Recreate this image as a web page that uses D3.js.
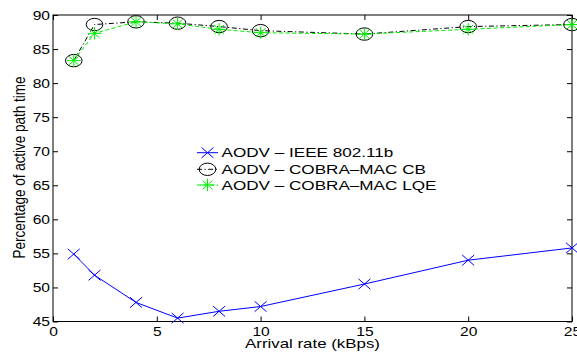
<!DOCTYPE html>
<html><head><meta charset="utf-8">
<script src="https://cdn.jsdelivr.net/npm/d3@7"></script>
<style>body{margin:0;background:#fff}svg{display:block}</style>
</head><body>
<script>
const arrivalRates = [1, 2, 4, 6, 8, 10, 15, 20, 25];
const ieee80211b = [54.9, 51.8, 47.8, 45.5, 46.5, 47.2, 50.5, 54.0, 55.8];
const cobraCB   = [83.3, 88.6, 89.0, 88.8, 88.3, 87.7, 87.2, 88.3, 88.6];
const cobraLQE  = [83.3, 87.3, 89.0, 88.7, 87.9, 87.4, 87.2, 87.9, 88.6];
const xTicks = [0, 5, 10, 15, 20, 25];
const yTicks = [45, 50, 55, 60, 65, 70, 75, 80, 85, 90];
const seriesNames = ["AODV \u2013 IEEE 802.11b", "AODV \u2013 COBRA\u2013MAC CB", "AODV \u2013 COBRA\u2013MAC LQE"];
const xLabel = "Arrival rate (kBps)";
const yLabel = "Percentage of active path time";

const W = 577, H = 355;
const m = {l: 53, r: 5, t: 15, b: 33.5};
const SX = 1.25;
const FONT = "'Liberation Sans', Arial, Helvetica, sans-serif";

const svg = d3.select("body").append("svg").attr("width", W).attr("height", H);
const x = d3.scaleLinear().domain([0, 25]).range([m.l, W - m.r]);
const y = d3.scaleLinear().domain([45, 90]).range([H - m.b, m.t]);

// box
svg.append("rect").attr("x", x(0)).attr("y", y(90)).attr("width", x(25) - x(0)).attr("height", y(45) - y(90))
  .attr("fill", "none").attr("stroke", "#000").attr("stroke-width", 1);

function styleAxis(g, labels) {
  g.select(".domain").remove();
  g.selectAll("line").attr("stroke", "#000").attr("stroke-width", 1);
  g.selectAll("text").attr("font-family", FONT).attr("font-size", 12.5).attr("fill", "#000");
  if (!labels) g.selectAll("text").remove();
}
const gB = svg.append("g").attr("transform", `translate(0,${y(45)})`)
  .call(d3.axisBottom(x).tickValues(xTicks).tickSizeInner(-5).tickSizeOuter(0).tickPadding(5.5));
styleAxis(gB, true);
gB.selectAll("text").attr("transform", `scale(${SX},1)`).attr("x", 0);
const gT = svg.append("g").attr("transform", `translate(0,${y(90)})`)
  .call(d3.axisTop(x).tickValues(xTicks).tickSizeInner(-5).tickSizeOuter(0));
styleAxis(gT, false);
const gL = svg.append("g").attr("transform", `translate(${x(0)},0)`)
  .call(d3.axisLeft(y).tickValues(yTicks).tickSizeInner(-5).tickSizeOuter(0).tickPadding(3 / SX));
styleAxis(gL, true);
gL.selectAll("text").attr("transform", `scale(${SX},1)`);
const gR = svg.append("g").attr("transform", `translate(${x(25)},0)`)
  .call(d3.axisRight(y).tickValues(yTicks).tickSizeInner(-5).tickSizeOuter(0));
styleAxis(gR, false);

// axis labels
function stretchedText(px, py, txt, size, rot) {
  const g = svg.append("g").attr("transform", `translate(${px},${py}) scale(${SX},1)` + (rot ? ` rotate(${rot})` : ""));
  g.append("text").attr("text-anchor", "middle").attr("font-family", FONT).attr("font-size", size).attr("fill", "#000").text(txt);
}
stretchedText((x(0) + x(25)) / 2, 347.5, xLabel, 13.5, 0);
stretchedText(25, (76 + 259) / 2, yLabel, 13.5, -90);

// series
const series = [
  {vals: ieee80211b, color: "#0000ff", dash: null, marker: "x"},
  {vals: cobraCB, color: "#000000", dash: "5,2.5,1.2,2.5", marker: "o"},
  {vals: cobraLQE, color: "#00ee00", dash: "4,2.5", marker: "*"}
];
const line = d3.line().x(d => x(d[0])).y(d => y(d[1]));

function drawMarker(g, type, cx, cy, color) {
  if (type === "x") {
    const rx = 6, ry = 5.2;
    g.append("path").attr("d", `M${cx-rx},${cy-ry}L${cx+rx},${cy+ry}M${cx-rx},${cy+ry}L${cx+rx},${cy-ry}`)
      .attr("stroke", color).attr("stroke-width", 1).attr("fill", "none");
  } else if (type === "o") {
    g.append("ellipse").attr("cx", cx).attr("cy", cy).attr("rx", 8.3).attr("ry", 6.2)
      .attr("stroke", color).attr("stroke-width", 1).attr("fill", "none");
  } else {
    const rx = 7, ry = 6.2, dx = 5, dy = 4.4;
    g.append("path").attr("d", `M${cx-rx},${cy}L${cx+rx},${cy}M${cx},${cy-ry}L${cx},${cy+ry}M${cx-dx},${cy-dy}L${cx+dx},${cy+dy}M${cx-dx},${cy+dy}L${cx+dx},${cy-dy}`)
      .attr("stroke", color).attr("stroke-width", 1).attr("fill", "none");
  }
}

series.forEach(s => {
  const pts = arrivalRates.map((r, i) => [r, s.vals[i]]);
  const p = svg.append("path").attr("d", line(pts)).attr("fill", "none").attr("stroke", s.color).attr("stroke-width", 1);
  if (s.dash) p.attr("stroke-dasharray", s.dash);
  const g = svg.append("g");
  pts.forEach(d => drawMarker(g, s.marker, x(d[0]), y(d[1]), s.color));
});

// legend
const legY = [152.7, 169.3, 185];
series.forEach((s, i) => {
  const g = svg.append("g");
  const l = g.append("line").attr("x1", 197).attr("x2", 218).attr("y1", legY[i]).attr("y2", legY[i])
    .attr("stroke", s.color).attr("stroke-width", 1);
  if (s.dash) l.attr("stroke-dasharray", s.dash);
  drawMarker(g, s.marker, 207.5, legY[i], s.color);
  const tg = svg.append("g").attr("transform", `translate(221.5,${legY[i] + 4.5}) scale(1.36,1)`);
  tg.append("text").attr("font-family", FONT).attr("font-size", 12.6).attr("fill", "#000").text(seriesNames[i]);
});
</script>
</body></html>
